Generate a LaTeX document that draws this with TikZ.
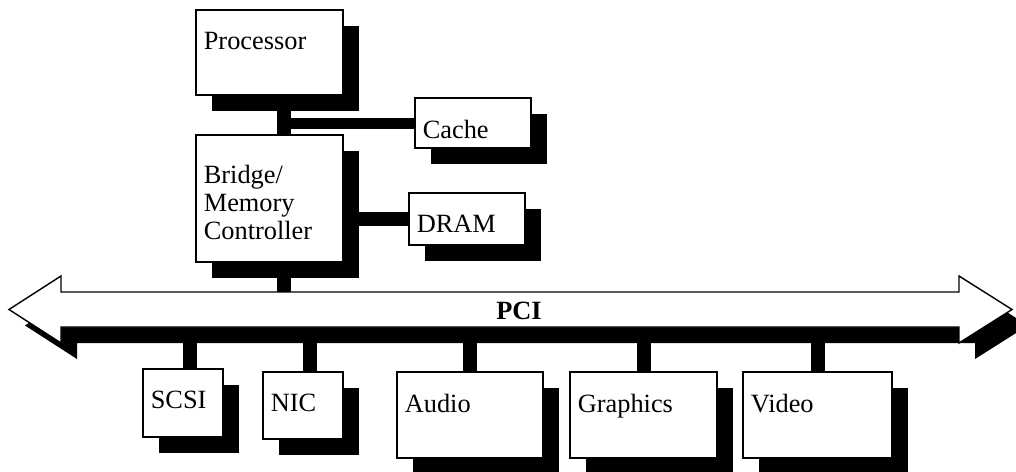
\documentclass[tikz,border=0pt]{standalone}
\usepackage{fontspec}
\setmainfont{Liberation Serif}
\usetikzlibrary{shadows}

\begin{document}
\begin{tikzpicture}[
  blackshadow/.style={drop shadow={shadow xshift=0.32cm, shadow yshift=-0.32cm, fill=black, opacity=1}},
  box/.style={draw, line width=0.6pt, fill=white, inner sep=0pt, blackshadow},
  txt/.style={anchor=north west, inner sep=0pt, xshift=0.16cm, yshift=-0.44cm, align=left, font=\fontsize{15}{16}\selectfont},
  bus/.style={line width=0.28cm}
]
\useasboundingbox (0,0) rectangle (20.32,-9.44);
\node[box, minimum width=2.94cm, minimum height=1.70cm, label={[txt]north west:Processor}] (proc) at (5.39,-1.05) {};
\node[box, minimum width=2.32cm, minimum height=1.00cm, label={[txt]north west:Cache}] (cache) at (9.46,-2.46) {};
\node[box, minimum width=2.94cm, minimum height=2.54cm, label={[txt,yshift=-0.16cm]north west:{Bridge/\\Memory\\Controller}}] (bridge) at (5.39,-3.97) {};
\node[box, minimum width=2.32cm, minimum height=1.04cm, label={[txt]north west:DRAM}] (dram) at (9.34,-4.38) {};
\node[box, minimum width=1.60cm, minimum height=1.36cm, label={[txt]north west:SCSI}] (scsi) at (3.66,-8.06) {};
\node[box, minimum width=1.60cm, minimum height=1.34cm, label={[txt]north west:NIC}] (nic) at (6.06,-8.11) {};
\node[box, minimum width=2.92cm, minimum height=1.72cm, label={[txt]north west:Audio}] (audio) at (9.40,-8.30) {};
\node[box, minimum width=2.94cm, minimum height=1.72cm, label={[txt]north west:Graphics}] (graphics) at (12.87,-8.30) {};
\node[box, minimum width=2.98cm, minimum height=1.72cm, label={[txt]north west:Video}] (video) at (16.35,-8.30) {};
\coordinate (cpubar) at ([xshift=0.29cm]proc.south);
\coordinate (pcitop) at (10.16,-5.84);
\coordinate (pcibot) at (10.16,-6.54);
\draw[bus] (cpubar) -- ([xshift=0.29cm]bridge.north);
\draw[bus, line width=0.22cm] (cache.west) -- (cache.west -| cpubar);
\draw[bus] (dram.west) -- (dram.west -| bridge.east);
\draw[bus] ([xshift=0.29cm]bridge.south) -- ([xshift=0.29cm]bridge.south |- pcitop);
\draw[bus] ([xshift=0.14cm]scsi.north) -- ([xshift=0.14cm]scsi.north |- pcibot);
\draw[bus] ([xshift=0.14cm]nic.north) -- ([xshift=0.14cm]nic.north |- pcibot);
\draw[bus] (audio.north) -- (audio.north |- pcibot);
\draw[bus] (graphics.north) -- (graphics.north |- pcibot);
\draw[bus] (video.north) -- (video.north |- pcibot);
\draw[line width=0.8pt, fill=white, blackshadow] (0.18,-6.19) -- (1.22,-5.52) -- (1.22,-5.84) -- (19.18,-5.84) -- (19.18,-5.52) -- (20.24,-6.19) -- (19.18,-6.86) -- (19.18,-6.54) -- (1.22,-6.54) -- (1.22,-6.86) -- cycle;
\node[font=\fontsize{15}{16}\selectfont\bfseries] (pci) at (10.38,-6.21) {PCI};
\end{tikzpicture}
\end{document}
